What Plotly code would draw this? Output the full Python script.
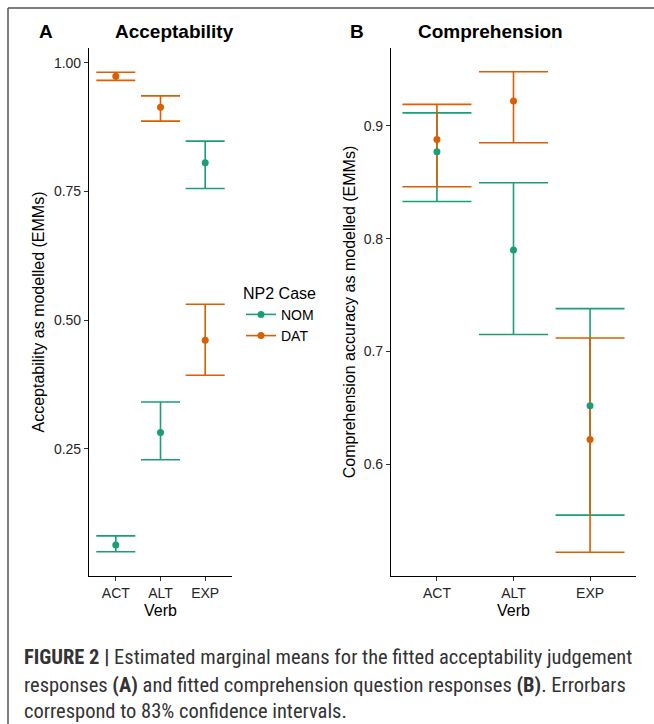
import plotly.graph_objects as go

verbs = ["ACT", "ALT", "EXP"]

# Panel A: Acceptability (EMMs with 83% CI)
acc_nom = [0.063, 0.282, 0.806]
acc_nom_lo = [0.050, 0.229, 0.756]
acc_nom_hi = [0.081, 0.341, 0.848]
acc_dat = [0.974, 0.914, 0.461]
acc_dat_lo = [0.966, 0.887, 0.393]
acc_dat_hi = [0.982, 0.936, 0.531]

# Panel B: Comprehension accuracy (EMMs with 83% CI)
comp_nom = [0.877, 0.790, 0.652]
comp_nom_lo = [0.833, 0.715, 0.555]
comp_nom_hi = [0.9115, 0.8496, 0.738]
comp_dat = [0.888, 0.922, 0.622]
comp_dat_lo = [0.846, 0.885, 0.522]
comp_dat_hi = [0.919, 0.948, 0.712]

acc_ticks = [0.25, 0.50, 0.75, 1.00]
comp_ticks = [0.6, 0.7, 0.8, 0.9]

NOM_COL = "#1B9E77"
DAT_COL = "#D95F02"
FONT = "Liberation Sans"

W, H = 654, 724

fig = go.Figure()


def add_panel(xa, ya, nom, nlo, nhi, dat, dlo, dhi, capw):
    # errorbars first (NOM then DAT), then points on top
    for vals, lo, hi, col in [(nom, nlo, nhi, NOM_COL), (dat, dlo, dhi, DAT_COL)]:
        fig.add_trace(go.Scatter(
            x=verbs, y=vals, xaxis=xa, yaxis=ya, mode="markers",
            marker=dict(size=1, color=col, opacity=0),
            error_y=dict(type="data", symmetric=False,
                         array=[h - v for h, v in zip(hi, vals)],
                         arrayminus=[v - l for v, l in zip(vals, lo)],
                         color=col, thickness=1.6, width=capw),
            showlegend=False, hoverinfo="skip"))
    for vals, col in [(nom, NOM_COL), (dat, DAT_COL)]:
        fig.add_trace(go.Scatter(
            x=verbs, y=vals, xaxis=xa, yaxis=ya, mode="markers",
            marker=dict(size=7, color=col), showlegend=False))


add_panel("x", "y", acc_nom, acc_nom_lo, acc_nom_hi, acc_dat, acc_dat_lo, acc_dat_hi, 19.5)
add_panel("x2", "y2", comp_nom, comp_nom_lo, comp_nom_hi, comp_dat, comp_dat_lo, comp_dat_hi, 34.5)

# legend entries
for name, col in [("NOM", NOM_COL), ("DAT", DAT_COL)]:
    fig.add_trace(go.Scatter(x=[None], y=[None], mode="lines+markers", name=name,
                             line=dict(color=col, width=1.6),
                             marker=dict(size=7, color=col), showlegend=True))

ydom = [1 - 576 / H, 1 - 48 / H]
axis_common = dict(showline=True, linecolor="black", linewidth=1.1, ticks="outside",
                   ticklen=4, tickwidth=1.1, tickcolor="#333333", showgrid=False,
                   zeroline=False, tickfont=dict(family=FONT, size=14, color="#262626"))

fig.update_layout(
    width=W, height=H, margin=dict(l=0, r=0, t=0, b=0),
    plot_bgcolor="white", paper_bgcolor="white",
    font=dict(family=FONT, color="black"),
    xaxis=dict(domain=[89 / W, 232 / W], anchor="y", type="category",
               range=[-0.6, 2.6], title=dict(text="Verb", font=dict(family=FONT, size=16, color="black"), standoff=4),
               **axis_common),
    yaxis=dict(domain=ydom, anchor="x", range=[0.003, 1.029], tickvals=acc_ticks,
               tickformat=".2f",
               title=dict(text="Acceptability as modelled (EMMs)", font=dict(family=FONT, size=16, color="black"), standoff=5),
               **axis_common),
    xaxis2=dict(domain=[391 / W, 636 / W], anchor="y2", type="category",
                range=[-0.6, 2.6], title=dict(text="Verb", font=dict(family=FONT, size=16, color="black"), standoff=4),
                **axis_common),
    yaxis2=dict(domain=ydom, anchor="x2", range=[0.501, 0.969], tickvals=comp_ticks,
                tickformat=".1f",
                title=dict(text="Comprehension accuracy as modelled (EMMs)", font=dict(family=FONT, size=16, color="black"), standoff=4),
                **axis_common),
    legend=dict(x=241 / W, y=1 - 278 / H, xanchor="left", yanchor="top",
                title=dict(text="NP2 Case", font=dict(family=FONT, size=16, color="black")),
                font=dict(family=FONT, size=14, color="black"), bgcolor="rgba(0,0,0,0)",
                tracegroupgap=0, itemwidth=30),
)

# panel titles and tags
for txt, xpx in [("A", 46), ("Acceptability", 174.5), ("B", 356.5), ("Comprehension", 490)]:
    fig.add_annotation(text="<b>%s</b>" % txt, x=xpx / W, y=1 - 31 / H, xref="paper", yref="paper",
                       xanchor="center", yanchor="middle", showarrow=False,
                       font=dict(family=FONT, size=19, color="black"))

# caption
CAP_FONT = "Liberation Sans Narrow, Roboto Condensed, Arial Narrow, Liberation Sans, sans-serif"
cap_lines = [
    "<b>FIGURE 2 |</b> Estimated marginal means for the fitted acceptability judgement",
    "responses <b>(A)</b> and fitted comprehension question responses <b>(B)</b>. Errorbars",
    "correspond to 83% confidence intervals.",
]
for line, ypx in zip(cap_lines, [657, 685, 711]):
    fig.add_annotation(text=line, x=22 / W, y=1 - ypx / H, xref="paper", yref="paper",
                       xanchor="left", yanchor="middle", showarrow=False,
                       font=dict(family=CAP_FONT, size=20.5, color="#333333"))

# frame around figure
fig.add_shape(type="line", xref="paper", yref="paper", x0=8 / W, x1=1, y0=1 - 8 / H, y1=1 - 8 / H,
              line=dict(color="#555555", width=1.5))
fig.add_shape(type="line", xref="paper", yref="paper", x0=8 / W, x1=8 / W, y0=0, y1=1 - 8 / H,
              line=dict(color="#555555", width=1.5))

fig.write_html("out.html")
